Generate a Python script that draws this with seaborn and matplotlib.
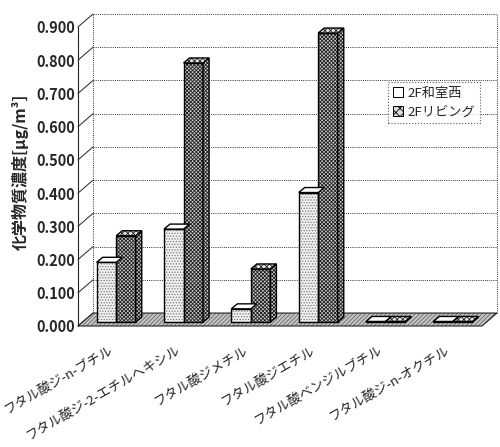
import pandas as pd
import seaborn as sns
import matplotlib
matplotlib.use("Agg")
import matplotlib.pyplot as plt
from matplotlib.patches import Polygon, Rectangle, Patch

# ---- data -------------------------------------------------------------
compounds = [
    "フタル酸ジ-n-ブチル",
    "フタル酸ジ-2-エチルヘキシル",
    "フタル酸ジメチル",
    "フタル酸ジエチル",
    "フタル酸ベンジルブチル",
    "フタル酸ジ-n-オクチル",
]
rooms = ["2F和室西", "2Fリビング"]
washitsu_west = [0.18, 0.28, 0.04, 0.39, 0.002, 0.002]
living_room = [0.26, 0.78, 0.16, 0.87, 0.002, 0.002]
y_ticks = [0.0, 0.1, 0.2, 0.3, 0.4, 0.5, 0.6, 0.7, 0.8, 0.9]
y_label = "化学物質濃度[μg/m³]"

df = pd.DataFrame({
    "compound": compounds * 2,
    "room": [rooms[0]] * len(compounds) + [rooms[1]] * len(compounds),
    "value": washitsu_west + living_room,
})

# ---- style ------------------------------------------------------------
sns.set_theme(style="white")
plt.rcParams["font.family"] = ["Noto Sans CJK JP", "DejaVu Sans"]
plt.rcParams["hatch.linewidth"] = 0.6

fig = plt.figure(figsize=(5.0, 4.47), dpi=100)
ax = fig.add_axes([0.156, 0.2707, 0.808, 0.669])

LIGHT_FACE, LIGHT_HATCH = "#f0f0f0", "#7a7a7a"
DARK_FACE, DARK_HATCH = "#c8c8c8", "#202020"

sns.barplot(data=df, x="compound", y="value", hue="room",
            palette=[LIGHT_FACE, DARK_FACE], width=0.58, gap=0,
            linewidth=0, legend=False, ax=ax)

x_lo, x_hi = -0.5, len(compounds) - 0.5
y_top = y_ticks[-1]
ax.set_xlim(x_lo, x_hi)
ax.set_ylim(0, y_top)

# oblique depth of the chart box and of each bar (data units)
DX, DY = 0.223, 0.039
SX, SY = 0.3 * DX, 0.3 * DY
BDX, BDY = 0.09, 0.015

# ---- floor, walls and gridlines ---------------------------------------
floor_pts = [(x_lo, 0), (x_hi, 0), (x_hi + DX, DY), (x_lo + DX, DY)]
ax.add_patch(Polygon(floor_pts, closed=True, facecolor="#c4c4c4",
                     edgecolor="#6a6a6a", hatch="////////", linewidth=0,
                     zorder=1, clip_on=False))
ax.add_patch(Polygon(floor_pts, closed=True, facecolor="none",
                     edgecolor="#222222", linewidth=0.8, zorder=1.1,
                     clip_on=False))

dot = (0, (1.0, 1.2))
for yv in y_ticks:
    ax.plot([x_lo + DX, x_hi + DX], [yv + DY, yv + DY], color="#333333",
            lw=0.7, ls=dot, zorder=0.5, clip_on=False)
    ax.plot([x_lo, x_lo + DX], [yv, yv + DY], color="#222222",
            lw=0.7, zorder=0.6, clip_on=False)
for xv in (x_lo + DX, x_hi + DX):
    ax.plot([xv, xv], [DY, y_top + DY], color="#333333", lw=0.7, ls=dot,
            zorder=0.5, clip_on=False)

# ---- extrude the bars into boxes --------------------------------------
styles = [
    dict(face=LIGHT_FACE, hatch_col=LIGHT_HATCH, hatch="......",
         top="#ffffff", top_hatch=None, side_z=2.2),
    dict(face=DARK_FACE, hatch_col=DARK_HATCH, hatch="xxxxxxxxx",
         top="#e6e6e6", top_hatch="xxxxxx", side_z=3.4),
]
for cont, st in zip(ax.containers, styles):
    for bar in cont:
        x0 = bar.get_x() + SX
        w = bar.get_width()
        h = bar.get_height()
        bar.set_x(x0)
        bar.set_y(SY)
        bar.set_facecolor(st["face"])
        bar.set_edgecolor(st["hatch_col"])
        bar.set_hatch(st["hatch"])
        bar.set_linewidth(0)
        bar.set_zorder(3)
        y1 = SY + h
        ax.add_patch(Rectangle((x0, SY), w, h, facecolor="none",
                               edgecolor="black", lw=1.0, zorder=3.2))
        side = [(x0 + w, SY), (x0 + w + BDX, SY + BDY),
                (x0 + w + BDX, y1 + BDY), (x0 + w, y1)]
        ax.add_patch(Polygon(side, closed=True, facecolor=st["face"],
                             edgecolor=st["hatch_col"], hatch=st["hatch"],
                             lw=0, zorder=st["side_z"]))
        ax.add_patch(Polygon(side, closed=True, facecolor="none",
                             edgecolor="black", lw=1.0,
                             zorder=st["side_z"] + 0.05))
        top = [(x0, y1), (x0 + w, y1), (x0 + w + BDX, y1 + BDY),
               (x0 + BDX, y1 + BDY)]
        ax.add_patch(Polygon(top, closed=True, facecolor=st["top"],
                             edgecolor=st["hatch_col"] if st["top_hatch"] else "black",
                             hatch=st["top_hatch"], lw=0, zorder=3.5))
        ax.add_patch(Polygon(top, closed=True, facecolor="none",
                             edgecolor="black", lw=1.0, zorder=3.55))

# ---- axes, ticks and labels --------------------------------------------
for s in ("top", "right", "bottom"):
    ax.spines[s].set_visible(False)
ax.spines["left"].set_color("#222222")
ax.spines["left"].set_linewidth(0.8)

ax.set_yticks(y_ticks)
ax.set_yticklabels([f"{v:.3f}" for v in y_ticks], fontsize=10.5,
                   fontweight="bold")
ax.tick_params(axis="y", length=0, pad=2)
ax.tick_params(axis="x", length=0, pad=17, labelsize=9.5)
plt.setp(ax.get_xticklabels(), rotation=30, ha="right", va="center",
         rotation_mode="anchor")
ax.set_xlabel("")
ax.set_ylabel(y_label, fontsize=11.5, fontweight="bold")
ax.yaxis.set_label_coords(-0.121, 0.515)

handles = [Patch(facecolor="white", edgecolor="black", lw=0.7),
           Patch(facecolor="#dddddd", edgecolor="black", lw=0.7,
                 hatch="xxxx")]
leg = ax.legend(handles, rooms, loc="upper left",
                bbox_to_anchor=(388 / 500, 1 - 82 / 447),
                bbox_transform=fig.transFigure, fontsize=9.5,
                frameon=True, fancybox=False, handlelength=0.8,
                handleheight=0.8, handletextpad=0.3, borderpad=0.35,
                labelspacing=0.45, borderaxespad=0)
leg.get_frame().set_edgecolor("#333333")
leg.get_frame().set_linestyle(":")
leg.get_frame().set_linewidth(0.8)
leg.set_zorder(5)

fig.savefig("out.png", dpi=100, facecolor="white")
